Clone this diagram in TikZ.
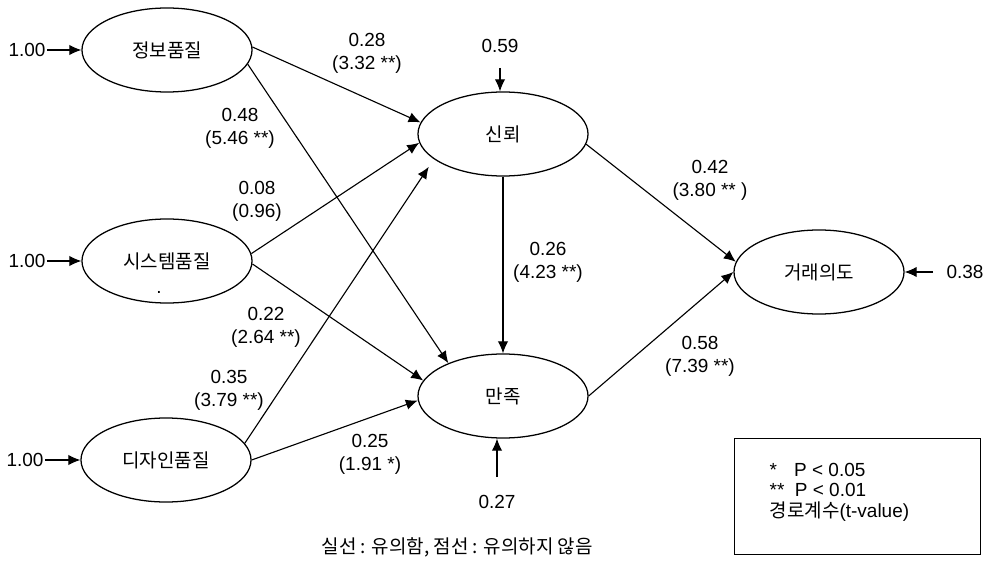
\documentclass[tikz,border=0pt]{standalone}
\usepackage{fontspec}
\setmainfont{Liberation Sans}
\newfontfamily\kr{Noto Sans CJK KR}
\usepackage{tikz}
\usetikzlibrary{shapes.geometric, arrows.meta}

\tikzset{
    latent/.style={ellipse, draw, line width=0.9pt, minimum width=4.25cm, minimum height=2.1cm, inner sep=0pt, font=\kr\fontsize{13.5}{16}\selectfont},
    coef/.style={align=center, inner sep=1pt, font=\fontsize{13.5}{16.3}\selectfont},
    path arrow/.style={-{Latex[length=3mm, width=2.6mm]}, line width=0.8pt}
}

\begin{document}
\begin{tikzpicture}[x=0.025cm, y=0.025cm]
        \useasboundingbox (0, 0) rectangle (990, 560);
        \node[latent] (info) at (167, 510) {정보품질};
        \node[latent] (sys) at (167, 299) {시스템품질};
        \node[latent] (design) at (166, 100) {디자인품질};
        \node[latent] (trust) at (503, 426) {신뢰};
        \node[latent] (satis) at (503, 164) {만족};
        \node[latent] (intent) at (819, 288) {거래의도};
        \node[coef] (sysdot) at (159, 268) {.};

        \node[coef] (e1) at (27, 510) {1.00};
        \node[coef] (e2) at (27, 299) {1.00};
        \node[coef] (e3) at (25, 100) {1.00};
        \draw[path arrow] (e1) -- (info.west);
        \draw[path arrow] (e2) -- (sys.west);
        \draw[path arrow] (e3) -- (design.west);

        \node[coef] (r59) at (500, 514) {0.59};
        \node[coef] (r27) at (497, 58) {0.27};
        \node[coef] (r38) at (965, 288) {0.38};
        \coordinate (s59) at (500, 492);
        \coordinate (s27) at (497, 83);
        \coordinate (s38) at (933, 288);
        \draw[path arrow] (s59) -- (s59 |- trust.north);
        \draw[path arrow] (s27) -- (s27 |- satis.south);
        \draw[path arrow] (s38) -- (intent.east);

        \draw[path arrow] (info.2) -- (trust.172);
        \draw[path arrow] (info.-10) -- (satis.149);
        \draw[path arrow] (sys.5) -- (trust.186);
        \draw[path arrow] (sys.-2) -- (satis.169);
        \draw[path arrow, shorten >=2.3mm] (design.12) -- (trust.200);
        \draw[path arrow] (design.east) -- (satis.183);
        \draw[path arrow] (trust.south) -- (satis.north);
        \draw[path arrow] (trust.-7.5) -- (intent.173);
        \draw[path arrow] (satis.east) -- (intent.west);

        \node[coef] (c28) at (367, 506.5) {0.28\\(3.32 **)};
        \node[coef] (c48) at (240, 431.5) {0.48\\(5.46 **)};
        \node[coef] (c08) at (257, 358.5) {0.08\\(0.96)};
        \node[coef] (c22) at (266, 233) {0.22\\(2.64 **)};
        \node[coef] (c35) at (229, 170) {0.35\\(3.79 **)};
        \node[coef] (c25) at (370, 106) {0.25\\(1.91 *)};
        \node[coef] (c26) at (548, 298) {0.26\\(4.23 **)};
        \node[coef] (c42) at (710, 380) {0.42\\(3.80 ** )};
        \node[coef] (c58) at (700, 204) {0.58\\(7.39 **)};

        \draw[line width=0.7pt] (734, 6) rectangle (980, 122);
        \node[coef, anchor=west, align=left, font=\fontsize{13.5}{14.5}\selectfont] (legend) at (768, 68) {*\hspace{0.9em}P < 0.05\\**\hspace{0.55em}P < 0.01\\{\kr 경로계수}(t-value)};
        \node[coef, anchor=west, font=\kr\fontsize{13.5}{16}\selectfont] (note) at (320, 13) {실선 : 유의함, 점선 : 유의하지 않음};
    \end{tikzpicture}
\end{document}
